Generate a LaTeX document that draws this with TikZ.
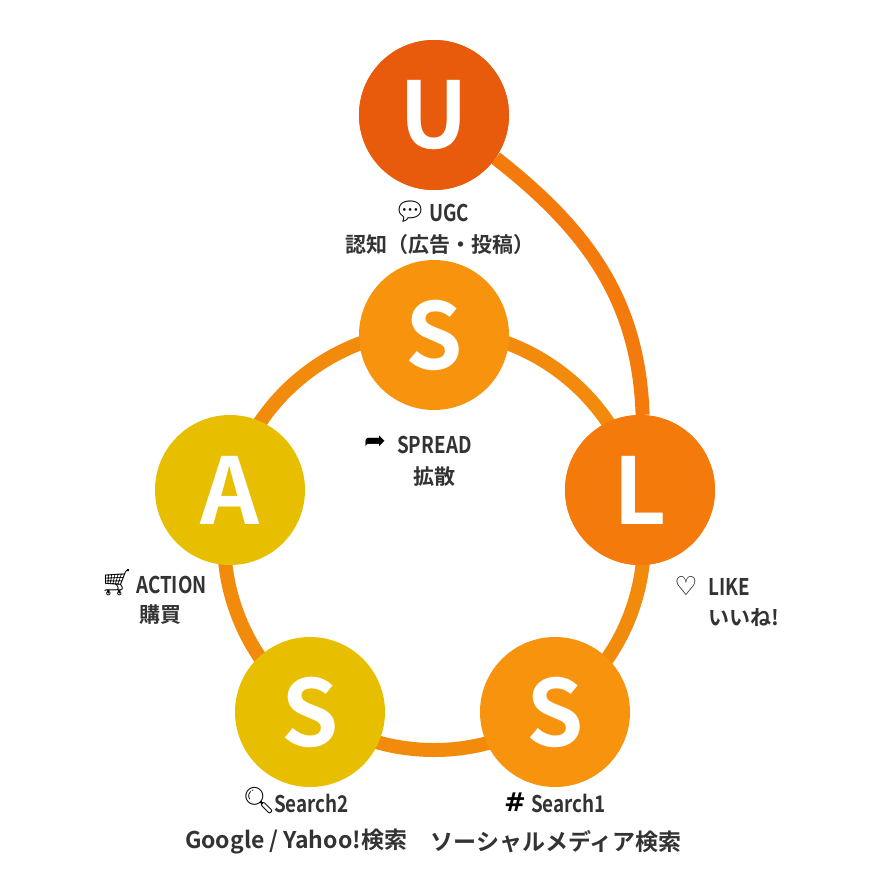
\documentclass[tikz,border=0pt]{standalone}
\usepackage{fontspec}
\setmainfont{Noto Sans CJK JP}[BoldFont={* Bold}]
\newfontfamily\condfont{Noto Sans CJK JP Bold}[FakeStretch=0.82]
\newfontfamily\emojifont{Noto Emoji}
\newfontfamily\symfont{DejaVu Sans}
\usetikzlibrary{positioning}
\definecolor{ucol}{HTML}{E85A0C}
\definecolor{lcol}{HTML}{F57A0C}
\definecolor{scol}{HTML}{F7930C}
\definecolor{acol}{HTML}{E8BE00}
\definecolor{ringcol}{HTML}{F28A0C}
\definecolor{txt}{HTML}{333333}

\begin{document}
\begin{tikzpicture}[
    x = 1pt, y = -1pt, % pixel units
    stage/.style = {circle, minimum size = 150pt, inner sep = 0pt,
      text = white, font = \fontsize{92}{92}\selectfont\bfseries},
    lbl/.style = {anchor = west, text = txt, inner sep = 0pt,
      font = \fontsize{23}{23}\selectfont\condfont},
    sub/.style = {text = txt, inner sep = 0pt,
      font = \fontsize{21}{21}\selectfont\bfseries},
    ico/.style = {text = black, inner sep = 0pt,
      font = \fontsize{26}{26}\selectfont\emojifont}
    ]
    \useasboundingbox (0,0) rectangle (888,886);

    % ring
    \draw[ringcol, line width = 14pt] (434,540) circle (210);

    \node[stage, fill = ucol] (u) at (434,115) {U};
    \node[stage, fill = scol] (s1) at (434,335) {S};
    \node[stage, fill = lcol] (l) at (640,490) {L};
    \node[stage, fill = scol] (s2) at (555,712) {S};
    \node[stage, fill = acol] (s3) at (310,712) {S};
    \node[stage, fill = acol] (a) at (230,490) {A};

    % link U -> L, then redraw the two ends on top
    \draw[lcol, line width = 14pt] (u.-35) to[out = -38, in = 92] (l.88);
    \node[stage, fill = ucol] at (u) {U};
    \node[stage, fill = lcol] at (l) {L};

    % labels
    \node[ico] (iu) at (410,212) {💬};
    \node[lbl] (tu) at (429,213) {UGC};
    \node[sub] (su) at (440,245) {認知（広告・投稿）};

    \node[ico] (is) at (375,443) {\symfont ➦};
    \node[lbl] (ts) at (397,445) {SPREAD};
    \node[sub] (ss) at (434,477) {拡散};

    \node[ico] (ia) at (117,583) {🛒};
    \node[lbl] (ta) at (136,585) {ACTION};
    \node[sub] (sa) at (160,615) {購買};

    \node[ico] (il) at (686,586) {\symfont ♡};
    \node[lbl] (tl) at (708,587) {LIKE};
    \node[sub, anchor = west] (sl) at (708,618) {いいね!};

    \node[ico] (i3) at (259,801) {🔍};
    \node[lbl] (t3) at (274,803) {Search2};
    \node[ico] (i2) at (515,802) {\symfont\bfseries \#};
    \node[lbl] (t2) at (531,803) {Search1};

    \node[sub, font = \fontsize{23}{23}\selectfont\bfseries] (g3) at (296,842) {Google / Yahoo!検索};
    \node[sub, font = \fontsize{23}{23}\selectfont\bfseries] (g2) at (556,842) {ソーシャルメディア検索};
\end{tikzpicture}
\end{document}
